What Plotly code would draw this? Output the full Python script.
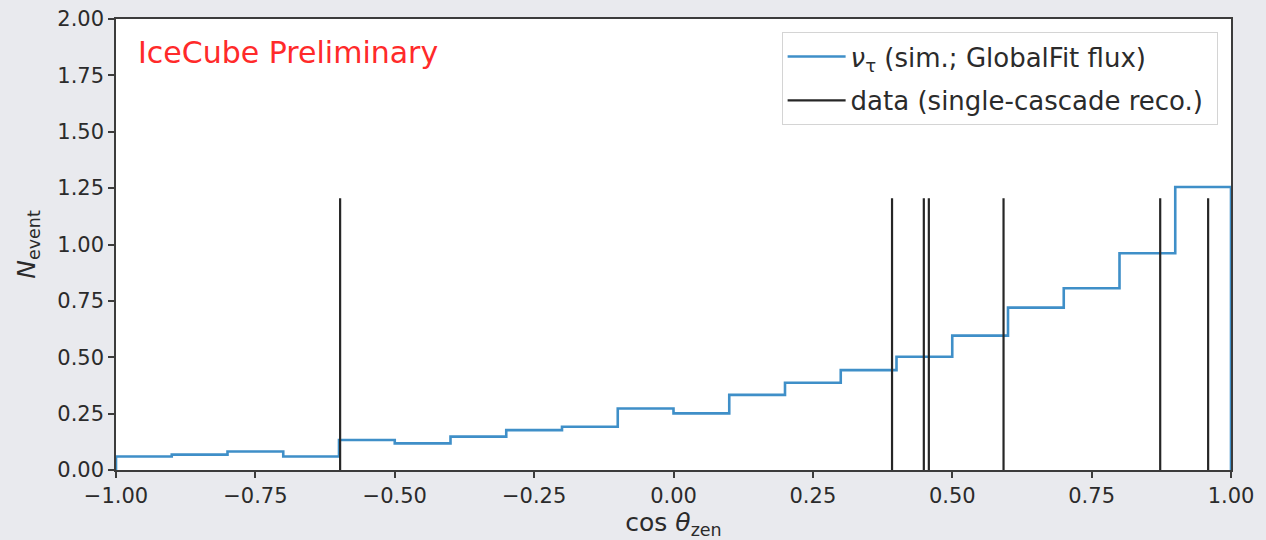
import plotly.graph_objects as go

# Histogram of simulated nu_tau events in cos(zenith), 20 bins from -1 to 1
bin_edges = [round(-1.0 + 0.1 * i, 2) for i in range(21)]
sim_counts = [0.060, 0.068, 0.082, 0.060, 0.133, 0.118, 0.148, 0.177, 0.192, 0.273,
              0.251, 0.333, 0.387, 0.443, 0.502, 0.596, 0.720, 0.806, 0.961, 1.255]

# Observed events (single-cascade reconstruction), drawn as vertical markers
data_cos_zen = [-0.598, 0.392, 0.449, 0.458, 0.592, 0.873, 0.959]
marker_height = 1.205

y_ticks = [0.0, 0.25, 0.5, 0.75, 1.0, 1.25, 1.5, 1.75, 2.0]
x_ticks = [-1.0, -0.75, -0.5, -0.25, 0.0, 0.25, 0.5, 0.75, 1.0]

FONT = "DejaVu Sans"
AXIS_COLOR = "#3c3c3c"
TEXT_COLOR = "#2b2b2b"
PAD = "\u00a0"  # right padding inside the legend box

# Step outline: close to zero at both ends like a step histogram
step_x = [bin_edges[0]] + bin_edges + [bin_edges[-1]]
step_y = [0.0] + sim_counts + [sim_counts[-1], 0.0]

vx, vy = [], []
for v in data_cos_zen:
    vx += [v, v, None]
    vy += [0.0, marker_height, None]

fig = go.Figure()
fig.add_trace(go.Scatter(
    x=step_x, y=step_y, mode="lines", line_shape="hv",
    line=dict(color="#3f8fc8", width=2.6),
    name="<i>ν</i><sub>τ</sub> (sim.; GlobalFit flux)" + PAD,
    legendgroup="sim",
))
fig.add_trace(go.Scatter(
    x=vx, y=vy, mode="lines",
    line=dict(color="#262626", width=2.2),
    name="data (single-cascade reco.)" + PAD,
    legendgroup="data",
))

fig.update_layout(
    width=1266, height=540,
    margin=dict(l=116, r=35, t=19, b=70),
    paper_bgcolor="#e9eaee",
    plot_bgcolor="#ffffff",
    font=dict(family=FONT, size=21, color=TEXT_COLOR),
    legend=dict(
        x=0.988, y=0.971, xanchor="right", yanchor="top",
        bgcolor="rgba(255,255,255,0.9)", bordercolor="#d4d4d4", borderwidth=1,
        font=dict(family=FONT, size=26, color=TEXT_COLOR),
        tracegroupgap=7, itemwidth=58,
    ),
    annotations=[dict(
        text="IceCube Preliminary", xref="paper", yref="paper",
        x=0.018, y=0.925, xanchor="left", yanchor="middle", showarrow=False,
        font=dict(family=FONT, size=30, color="#ff2a2a"),
    )],
)

fig.update_xaxes(
    range=[-1.0, 1.0], tickvals=x_ticks,
    ticktext=[f"{t:.2f}".replace("-", "−") for t in x_ticks],
    showgrid=False, zeroline=False, automargin=False,
    showline=True, mirror=True, linecolor=AXIS_COLOR, linewidth=1.5,
    ticks="outside", ticklen=6, tickwidth=1.5, tickcolor=AXIS_COLOR,
    tickfont=dict(family=FONT, size=21, color=TEXT_COLOR),
    title=dict(text="cos <i>θ</i><sub>zen</sub>",
               font=dict(family=FONT, size=25, color=TEXT_COLOR)),
)
fig.update_yaxes(
    range=[0.0, 2.0], tickvals=y_ticks,
    ticktext=[f"{t:.2f}" for t in y_ticks],
    showgrid=False, zeroline=False, automargin=False,
    showline=True, mirror=True, linecolor=AXIS_COLOR, linewidth=1.5,
    ticks="outside", ticklen=6, tickwidth=1.5, tickcolor=AXIS_COLOR,
    tickfont=dict(family=FONT, size=21, color=TEXT_COLOR),
    title=dict(text="<i>N</i><sub>event</sub>",
               font=dict(family=FONT, size=25, color=TEXT_COLOR)),
)

fig.write_html("out.html")
